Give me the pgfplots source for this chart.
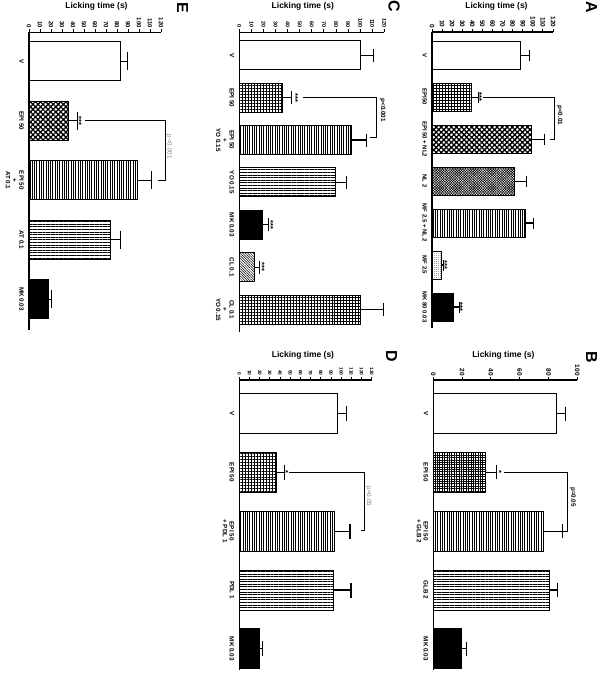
\documentclass[border=0pt]{standalone}
\usepackage{fontspec}
\setmainfont{Liberation Sans}
\usepackage{pgfplots}
\pgfplotsset{compat=1.18}
\usetikzlibrary{patterns.meta}

\pgfplotsset{
  panel/.style={
    scale only axis, clip=false, enlargelimits=false,
    axis x line*=top, axis y line*=left,
    axis line style={black, line width=1.1bp},
    xmin=0,
    tick align=outside, major tick length=3bp,
    every tick/.style={black, line width=0.9bp},
    ytick style={draw=none},
    /pgf/number format/assume math mode=true,
    xticklabel style={rotate=-90, anchor=east, inner sep=1.2bp, font=\bfseries\fontsize{6.5}{7}\selectfont},
    yticklabel style={rotate=-90, anchor=north, align=center, inner sep=2bp, font=\bfseries\fontsize{6.3}{6.8}\selectfont},
    xlabel={Licking time (s)},
    xlabel style={at={(rel axis cs:0.5,1)}, anchor=center, yshift=26bp, font=\bfseries\fontsize{8.5}{10}\selectfont},
  },
  bars/.style={xbar, bar shift=0pt, draw=black, line width=1bp,
    error bars/x dir=plus, error bars/x explicit,
    error bars/error mark=|,
    error bars/error bar style={black, line width=1.1bp},
    error bars/error mark options={black, line width=1.1bp, mark size=#1}},
  bars/.default=5.5bp,
  grid pat/.style={pattern={Hatch[angle=0,distance=3pt,line width=0.5pt]}},
  dark grid/.style={pattern={Hatch[angle=0,distance=2.4pt,line width=1pt]}},
  diamonds/.style={pattern={Hatch[angle=45,distance=3.6pt,line width=1.3pt]}},
  fine hatch/.style={pattern={Hatch[angle=45,distance=1.8pt,line width=0.5pt]}},
  vlines/.style={pattern={Lines[angle=90,distance=2.3pt,line width=0.55pt]}},
  hlines/.style={pattern={Lines[angle=0,distance=2.6pt,line width=0.5pt]}},
  diag/.style={pattern={Lines[angle=-45,distance=1.8pt,line width=0.5pt]}},
  dotted pat/.style={pattern={Dots[distance=2pt,radius=0.45pt]}, pattern color=gray},
}
\newcommand{\sig}{\bfseries\fontsize{7.5}{8}\selectfont}
\newcommand{\pval}{\bfseries\fontsize{6.3}{7}\selectfont}
\newcommand{\pvalg}{\fontsize{6.3}{7}\selectfont\color{gray}}
\newcommand{\letter}{\bfseries\fontsize{16}{16}\selectfont}

\begin{document}
\begin{tikzpicture}
\useasboundingbox (0,0) rectangle (600bp,-680bp);

% ---- A
\begin{axis}[panel, at={(432bp,-32bp)}, anchor=north west, width=121bp, height=296bp,
  xmax=120, ymin=-6.5, ymax=0.55, bar width=28bp,
  xtick={0,10,...,120}, ytick={0,-1,...,-6},
  yticklabels={V, EPI50, EPI 50 + NL2, NL 2, MF 2.5 + NL 2, MF 2.5, MK 80 0.03},
  yticklabel style={font=\bfseries\fontsize{6}{6.5}\selectfont},
  xlabel style={xshift=4bp}]
\addplot[bars, fill=white] coordinates {(88,0) +- (9,0)};
\addplot[bars, grid pat] coordinates {(38.7,-1) +- (7.3,0)};
\addplot[bars, diamonds] coordinates {(99,-2) +- (13,0)};
\addplot[bars, fine hatch] coordinates {(82,-3) +- (12,0)};
\addplot[bars, vlines] coordinates {(93,-4) +- (8,0)};
\addplot[bars, dotted pat] coordinates {(9,-5) +- (2,0)};
\addplot[bars, fill=black] coordinates {(21,-6) +- (6,0)};
\draw[line width=1bp] (axis cs:51,-1) -- (axis cs:121.5,-1) -- (axis cs:121.5,-2) -- (axis cs:117,-2);
\node[rotate=-90, font=\pval] at (axis cs:126.5,-1.43) {p<0.01};
\node[rotate=-90, font=\sig] at (axis cs:47,-1) {***};
\node[rotate=-90, font=\sig] at (axis cs:12.5,-5) {***};
\node[rotate=-90, font=\sig] at (axis cs:28,-6) {***};
\end{axis}
\node[rotate=-90, font=\letter] at (591.5bp,-7.5bp) {A};

% ---- B
\begin{axis}[panel, at={(433.3bp,-380bp)}, anchor=north west, width=144bp, height=290bp,
  xmax=100, ymin=-4.36, ymax=0.57, bar width=40bp,
  xtick={0,20,...,100}, ytick={0,-1,...,-4},
  yticklabels={V, EPI 50, EPI 50\\+ GLB 2, GLB 2, MK 0.03},
  xlabel style={xshift=-2bp, yshift=-1.5bp}]
\addplot[bars=7bp, fill=white] coordinates {(85.7,0) +- (6,0)};
\addplot[bars=7bp, dark grid] coordinates {(36,-1) +- (8,0)};
\addplot[bars=7bp, vlines] coordinates {(76.4,-2) +- (13.4,0)};
\addplot[bars=7bp, hlines] coordinates {(81,-3) +- (5,0)};
\addplot[bars=7bp, fill=black] coordinates {(19.7,-4) +- (3.5,0)};
\draw[line width=1bp] (axis cs:49,-1) -- (axis cs:93.5,-1) -- (axis cs:93.5,-2) -- (axis cs:90,-2);
\node[rotate=-90, font=\pval] at (axis cs:97,-1.42) {p=0.05};
\node[rotate=-90, font=\sig] at (axis cs:45.5,-1) {*};
\end{axis}
\node[rotate=-90, font=\letter] at (591.5bp,-357bp) {B};

% ---- C
\begin{axis}[panel, at={(239.3bp,-32.3bp)}, anchor=north west, width=145bp, height=299.4bp,
  xmax=120, ymin=-6.52, ymax=0.54, bar width=29bp,
  xtick={0,10,...,120}, ytick={0,-1,...,-6},
  xticklabel style={font=\bfseries\fontsize{5.5}{6}\selectfont},
  yticklabels={V, EPI 50, EPI 50\\+\\YO 0.15, YO 0.15, MK 0.03, CL 0.1, CL 0.1\\+\\YO 0.15},
  xlabel style={xshift=-9bp}]
\addplot[bars=6.5bp, fill=white] coordinates {(100.5,0) +- (10.5,0)};
\addplot[bars=6.5bp, grid pat] coordinates {(36,-1) +- (7.5,0)};
\addplot[bars=6.5bp, vlines] coordinates {(92.5,-2) +- (13,0)};
\addplot[bars=6.5bp, hlines] coordinates {(79.5,-3) +- (9,0)};
\addplot[bars=6.5bp, fill=black] coordinates {(19.3,-4) +- (5,0)};
\addplot[bars=6.5bp, diag] coordinates {(12.4,-5) +- (4.6,0)};
\addplot[bars=6.5bp, grid pat] coordinates {(100,-6) +- (19,0)};
\draw[line width=1bp] (axis cs:52.7,-1) -- (axis cs:113.7,-1) -- (axis cs:113.7,-1.95) -- (axis cs:108.2,-1.95);
\node[rotate=-90, font=\pval] at (axis cs:118.7,-1.3) {p<0.001};
\node[rotate=-90, font=\sig] at (axis cs:46.5,-1) {***};
\node[rotate=-90, font=\sig] at (axis cs:26,-4) {***};
\node[rotate=-90, font=\sig] at (axis cs:18.8,-5) {***};
\end{axis}
\node[rotate=-90, font=\letter] at (394bp,-6bp) {C};

% ---- D
\begin{axis}[panel, at={(239.3bp,-380bp)}, anchor=north west, width=132.4bp, height=290bp,
  xmax=130, ymin=-4.36, ymax=0.57, bar width=40bp,
  xtick={0,10,...,130}, ytick={0,-1,...,-4},
  xticklabel style={font=\bfseries\fontsize{4.8}{5}\selectfont},
  yticklabels={V, EPI 50, EPI 50\\+ PDL 1, PDL 1, MK 0.03},
  xlabel style={xshift=-2.5bp, yshift=-1.5bp}]
\addplot[bars=7.5bp, fill=white] coordinates {(96.6,0) +- (9,0)};
\addplot[bars=7.5bp, grid pat] coordinates {(36.7,-1) +- (7.5,0)};
\addplot[bars=7.5bp, vlines] coordinates {(93.3,-2) +- (15.4,0)};
\addplot[bars=7.5bp, hlines] coordinates {(92.3,-3) +- (17.4,0)};
\addplot[bars=7.5bp, fill=black] coordinates {(19.6,-4) +- (3.4,0)};
\draw[line width=0.8bp] (axis cs:48.5,-1) -- (axis cs:122.5,-1) -- (axis cs:122.5,-1.98) -- (axis cs:119.3,-1.98);
\node[rotate=-90, font=\pvalg] at (axis cs:127,-1.41) {p=0.05};
\node[rotate=-90, font=\sig] at (axis cs:45.5,-1) {*};
\end{axis}
\node[rotate=-90, font=\letter] at (391.5bp,-356bp) {D};

% ---- E
\begin{axis}[panel, at={(29bp,-32.3bp)}, anchor=north west, width=132bp, height=297.7bp,
  xmax=120, ymin=-4.52, ymax=0.49, bar width=39bp,
  xtick={0,10,...,120}, ytick={0,-1,...,-4},
  xticklabel style={font=\bfseries\fontsize{6}{6.5}\selectfont},
  yticklabels={V, EPI 50, EPI 50\\+\\AT 0.1, AT 0.1, MK 0.03},
  xlabel style={xshift=1.5bp}]
\addplot[bars=9bp, fill=white] coordinates {(83.3,0) +- (6.4,0)};
\addplot[bars=9bp, diamonds] coordinates {(35.8,-1) +- (8,0)};
\addplot[bars=9bp, vlines] coordinates {(98.5,-2) +- (13,0)};
\addplot[bars=9bp, hlines] coordinates {(74.2,-3) +- (9,0)};
\addplot[bars=9bp, fill=black] coordinates {(17.6,-4) +- (2.5,0)};
\draw[line width=0.9bp] (axis cs:51,-1) -- (axis cs:123.6,-1) -- (axis cs:123.6,-2) -- (axis cs:117.3,-2);
\node[rotate=-90, font=\pvalg] at (axis cs:127.5,-1.43) {p <0.001};
\node[rotate=-90, font=\sig] at (axis cs:45.4,-1) {***};
\end{axis}
\node[rotate=-90, font=\letter] at (182.5bp,-7.5bp) {E};
\end{tikzpicture}
\end{document}
